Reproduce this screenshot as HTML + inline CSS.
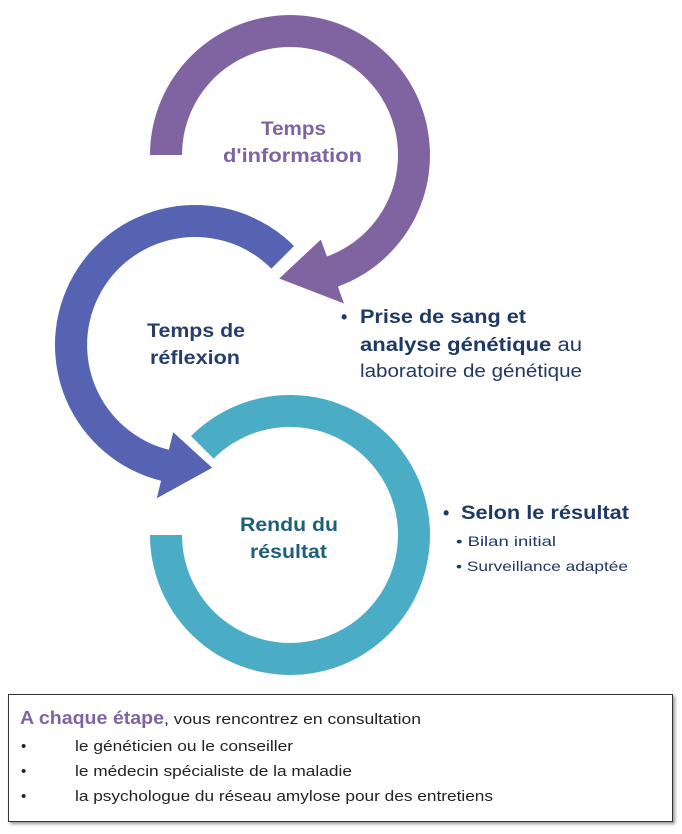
<!DOCTYPE html>
<html><head><meta charset="utf-8"><style>
html,body{margin:0;padding:0;background:#fff;}
body{width:682px;height:834px;position:relative;overflow:hidden;font-family:"Liberation Sans",sans-serif;}
svg{position:absolute;left:0;top:0;}
.box{position:absolute;left:8px;top:694px;width:665px;height:128px;border:1px solid #333;box-shadow:2px 2px 3px #999;box-sizing:border-box;}
</style></head><body>
<svg width="682" height="834" viewBox="0 0 682 834">
<path d="M150,155 A140,140 0 1 1 337.9,286.6 L344,303.5 L279.2,278.5 L320.8,239.6 L326.9,256.5 A108,108 0 1 0 182,155 Z" fill="#8064a2"/>
<path d="M294,246 A140,140 0 1 0 161.1,480.8 L156.8,498.3 L212.2,467.8 L173.2,432.3 L168.9,449.8 A108,108 0 1 1 271.4,268.6 Z" fill="#5663b3"/>
<path d="M150,535 A140,140 0 1 0 191,436 L213.6,458.6 A108,108 0 1 1 182,535 Z" fill="#4bacc6"/>
<g font-family="Liberation Sans, sans-serif" font-weight="bold" font-size="19">
<text x="261" y="135" fill="#7f62a1" textLength="65" lengthAdjust="spacingAndGlyphs">Temps</text>
<text x="223" y="162" fill="#7f62a1" textLength="139" lengthAdjust="spacingAndGlyphs">d'information</text>
<text x="147" y="337" fill="#253f6a" textLength="98" lengthAdjust="spacingAndGlyphs">Temps de</text>
<text x="150" y="364" fill="#253f6a" textLength="90" lengthAdjust="spacingAndGlyphs">réflexion</text>
<text x="240" y="531" fill="#1d5f79" textLength="98" lengthAdjust="spacingAndGlyphs">Rendu du</text>
<text x="250" y="558" fill="#1d5f79" textLength="77" lengthAdjust="spacingAndGlyphs">résultat</text>
</g>
<g font-family="Liberation Sans, sans-serif" fill="#1f3864">
<text x="341" y="323" font-size="18" font-weight="bold">•</text>
<text x="360" y="323" font-size="19" font-weight="bold" textLength="166" lengthAdjust="spacingAndGlyphs">Prise de sang et</text>
<text x="360" y="351" font-size="19" textLength="222" lengthAdjust="spacingAndGlyphs"><tspan font-weight="bold">analyse génétique</tspan> au</text>
<text x="360" y="377" font-size="18" textLength="222" lengthAdjust="spacingAndGlyphs">laboratoire de génétique</text>
<text x="443" y="519" font-size="18" font-weight="bold">•</text>
<text x="461" y="519" font-size="19" font-weight="bold" textLength="168" lengthAdjust="spacingAndGlyphs">Selon le résultat</text>
<text x="456" y="546" font-size="14" textLength="100" lengthAdjust="spacingAndGlyphs">• Bilan initial</text>
<text x="456" y="571" font-size="14" textLength="172" lengthAdjust="spacingAndGlyphs">• Surveillance adaptée</text>
</g>
<g font-family="Liberation Sans, sans-serif" font-size="15" fill="#222">
<text x="20" y="724" font-weight="bold" font-size="18" fill="#8064a2" textLength="144" lengthAdjust="spacingAndGlyphs">A chaque étape</text>
<text x="164" y="724" textLength="257" lengthAdjust="spacingAndGlyphs">, vous rencontrez en consultation</text>
<text x="21" y="751">•</text><text x="75" y="751" textLength="218" lengthAdjust="spacingAndGlyphs">le généticien ou le conseiller</text>
<text x="21" y="776">•</text><text x="75" y="776" textLength="277" lengthAdjust="spacingAndGlyphs">le médecin spécialiste de la maladie</text>
<text x="21" y="801">•</text><text x="75" y="801" textLength="418" lengthAdjust="spacingAndGlyphs">la psychologue du réseau amylose pour des entretiens</text>
</g>
</svg>
<div class="box"></div>
</body></html>
